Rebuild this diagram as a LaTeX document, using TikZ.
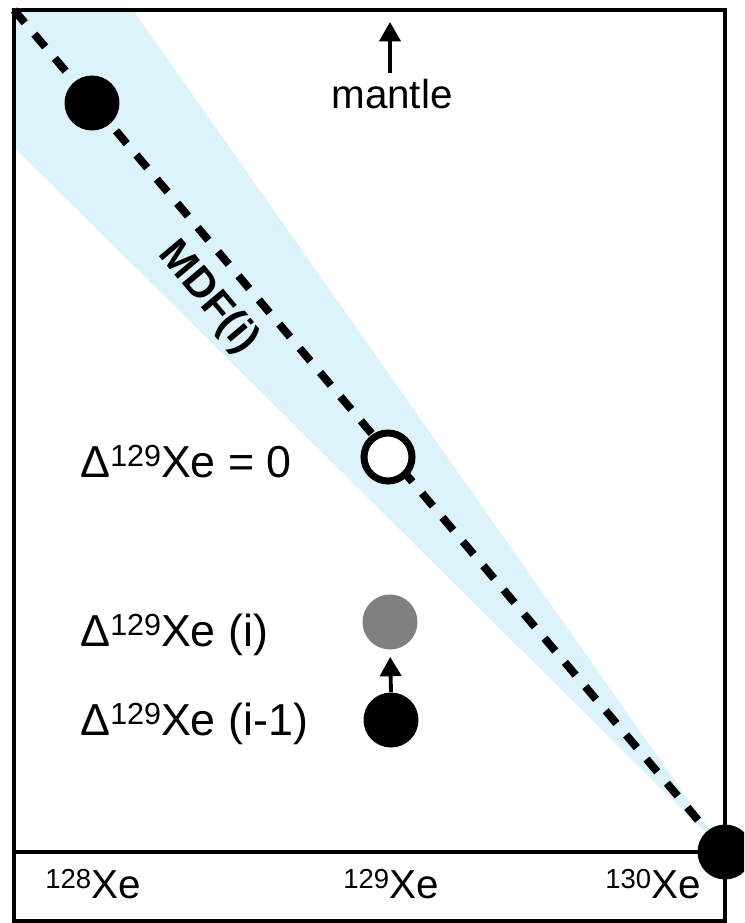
\documentclass[tikz,border=0pt]{standalone}
\usepackage{fontspec}
\setmainfont{Liberation Sans}
\usetikzlibrary{arrows.meta, positioning}
\definecolor{mdfblue}{RGB}{221,243,252}
\definecolor{dotgray}{RGB}{128,128,128}
\newcommand{\iso}[1]{\raisebox{0.23em}{\scalebox{0.68}{#1}}}

\begin{document}
\begin{tikzpicture}[x=0.02cm, y=-0.02cm,
    dot/.style={circle, fill=black, inner sep=0pt, minimum size=1.1cm},
    opendot/.style={circle, draw=black, fill=white, line width=4pt, inner sep=0pt, minimum size=0.96cm},
    lbl/.style={font=\fontsize{23}{27}\selectfont, inner sep=0pt},
    biglbl/.style={font=\fontsize{25.5}{30}\selectfont, inner sep=0pt},
    up/.style={line width=2.2pt, -{Triangle[length=11pt,width=12pt]}}]
    \useasboundingbox (0,0) rectangle (744,923);
    \clip (0,0) rectangle (744,923);

    % Highlight the MDF band
    \fill[mdfblue] (725,852) -- (14,147) -- (14,10) -- (133,10) -- cycle;

    % Frame and isotope strip
    \draw[line width=2pt] (14,10) rectangle (725,921);
    \draw[line width=2pt] (14,852) -- (725,852);

    % Mass dependent fractionation line
    \coordinate (corner) at (14,10);
    \node[dot] (xe130) at (725,852) {};
    \draw[line width=4.5pt, dash pattern=on 9.5pt off 8.5pt] (corner) -- (xe130.center);
    \node[inner sep=0pt, font=\fontsize{24}{28}\selectfont\bfseries, rotate=-50] (mdf) at (208,298) {MDF(i)};

    % Points on the line
    \node[dot] (mantledot) at (92,103) {};
    \node[opendot] (zerodot) at (388,457) {};

    % Mantle direction
    \node[lbl, anchor=base] (mantle) at (392,108) {mantle};
    \coordinate (mtip) at (390,22);
    \draw[up, shorten <=3pt] (mantle.north -| mtip) -- (mtip);

    % Evolution of the anomaly
    \node[dot, fill=dotgray] (cur) at (390,622) {};
    \node[dot] (prev) at (391,720) {};
    \draw[up, shorten >=4pt] (prev.north) -- (cur.south);

    % Labels on the left
    \node[biglbl, anchor=base west] (zero) at (80,477) {Δ\iso{129}Xe = 0};
    \node[biglbl, anchor=base west] (curlbl) at (80,646) {Δ\iso{129}Xe (i)};
    \node[biglbl, anchor=base west] (prevlbl) at (80,735) {Δ\iso{129}Xe (i-1)};

    % Isotope axis
    \foreach \m/\xpos in {128/45, 129/343, 130/605} {
        \node[lbl, anchor=base west] (lbl\m) at (\xpos,898) {\iso{\m}Xe};
    }
\end{tikzpicture}
\end{document}
